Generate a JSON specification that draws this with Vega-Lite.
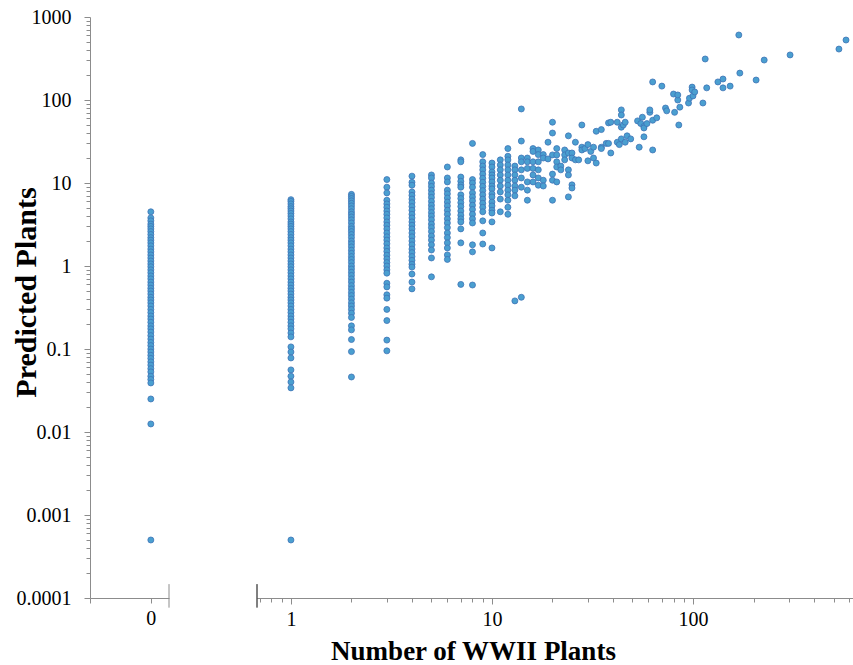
{
  "$schema": "https://vega.github.io/schema/vega-lite/v6.json",
  "background": "white",
  "padding": {"left": 11, "top": 7, "right": 0, "bottom": 0},
  "bounds": "flush",
  "spacing": 88,
  "config": {
    "view": {"stroke": null},
    "font": "Liberation Serif",
    "axis": {
      "grid": false,
      "labelFont": "Liberation Serif",
      "titleFont": "Liberation Serif",
      "labelFontSize": 20,
      "titleFontSize": 27,
      "titleFontWeight": "bold",
      "labelColor": "black",
      "titleColor": "black",
      "domainColor": "#8c8c8c",
      "tickColor": "#8c8c8c",
      "labelFlush": false,
      "labelOverlap": false
    }
  },
  "datasets": {
    "pts": [
      {"x":0,"y":4.5},{"x":0,"y":3.8},{"x":0,"y":3.5},{"x":0,"y":3.2},{"x":0,"y":3.0},{"x":0,"y":2.8},{"x":0,"y":2.6},{"x":0,"y":2.4},{"x":0,"y":2.2},{"x":0,"y":2.05},{"x":0,"y":1.9},{"x":0,"y":1.75},{"x":0,"y":1.6},{"x":0,"y":1.48},{"x":0,"y":1.36},{"x":0,"y":1.25},{"x":0,"y":1.15},{"x":0,"y":1.06},{"x":0,"y":0.98},{"x":0,"y":0.9},{"x":0,"y":0.83},{"x":0,"y":0.76},{"x":0,"y":0.7},{"x":0,"y":0.64},{"x":0,"y":0.59},{"x":0,"y":0.54},{"x":0,"y":0.5},{"x":0,"y":0.46},{"x":0,"y":0.42},{"x":0,"y":0.39},{"x":0,"y":0.36},{"x":0,"y":0.33},{"x":0,"y":0.3},{"x":0,"y":0.275},{"x":0,"y":0.25},{"x":0,"y":0.23},{"x":0,"y":0.21},{"x":0,"y":0.19},{"x":0,"y":0.175},{"x":0,"y":0.16},{"x":0,"y":0.145},{"x":0,"y":0.132},{"x":0,"y":0.12},{"x":0,"y":0.11},{"x":0,"y":0.1},{"x":0,"y":0.092},{"x":0,"y":0.084},{"x":0,"y":0.077},{"x":0,"y":0.07},{"x":0,"y":0.064},{"x":0,"y":0.058},{"x":0,"y":0.053},{"x":0,"y":0.047},{"x":0,"y":0.043},{"x":0,"y":0.039},{"x":0,"y":0.025},{"x":0,"y":0.0125},{"x":0,"y":0.0005},
      {"x":1,"y":6.3},{"x":1,"y":6.0},{"x":1,"y":5.6},{"x":1,"y":5.2},{"x":1,"y":4.9},{"x":1,"y":4.6},{"x":1,"y":4.3},{"x":1,"y":4.0},{"x":1,"y":3.7},{"x":1,"y":3.4},{"x":1,"y":3.2},{"x":1,"y":3.0},{"x":1,"y":2.8},{"x":1,"y":2.6},{"x":1,"y":2.4},{"x":1,"y":2.2},{"x":1,"y":2.05},{"x":1,"y":1.9},{"x":1,"y":1.75},{"x":1,"y":1.6},{"x":1,"y":1.48},{"x":1,"y":1.36},{"x":1,"y":1.25},{"x":1,"y":1.15},{"x":1,"y":1.06},{"x":1,"y":0.98},{"x":1,"y":0.9},{"x":1,"y":0.83},{"x":1,"y":0.76},{"x":1,"y":0.7},{"x":1,"y":0.64},{"x":1,"y":0.59},{"x":1,"y":0.54},{"x":1,"y":0.5},{"x":1,"y":0.46},{"x":1,"y":0.42},{"x":1,"y":0.39},{"x":1,"y":0.36},{"x":1,"y":0.33},{"x":1,"y":0.3},{"x":1,"y":0.275},{"x":1,"y":0.25},{"x":1,"y":0.23},{"x":1,"y":0.21},{"x":1,"y":0.19},{"x":1,"y":0.175},{"x":1,"y":0.156},{"x":1,"y":0.14},{"x":1,"y":0.106},{"x":1,"y":0.092},{"x":1,"y":0.078},{"x":1,"y":0.056},{"x":1,"y":0.047},{"x":1,"y":0.04},{"x":1,"y":0.034},{"x":1,"y":0.0005},
      {"x":2,"y":7.3},{"x":2,"y":6.9},{"x":2,"y":6.5},{"x":2,"y":6.1},{"x":2,"y":5.7},{"x":2,"y":5.3},{"x":2,"y":4.9},{"x":2,"y":4.5},{"x":2,"y":4.2},{"x":2,"y":3.9},{"x":2,"y":3.6},{"x":2,"y":3.3},{"x":2,"y":3.0},{"x":2,"y":2.8},{"x":2,"y":2.6},{"x":2,"y":2.4},{"x":2,"y":2.2},{"x":2,"y":2.0},{"x":2,"y":1.85},{"x":2,"y":1.7},{"x":2,"y":1.55},{"x":2,"y":1.42},{"x":2,"y":1.3},{"x":2,"y":1.2},{"x":2,"y":1.1},{"x":2,"y":1.0},{"x":2,"y":0.92},{"x":2,"y":0.84},{"x":2,"y":0.77},{"x":2,"y":0.7},{"x":2,"y":0.64},{"x":2,"y":0.58},{"x":2,"y":0.53},{"x":2,"y":0.48},{"x":2,"y":0.44},{"x":2,"y":0.4},{"x":2,"y":0.36},{"x":2,"y":0.33},{"x":2,"y":0.3},{"x":2,"y":0.27},{"x":2,"y":0.24},{"x":2,"y":0.19},{"x":2,"y":0.17},{"x":2,"y":0.13},{"x":2,"y":0.093},{"x":2,"y":0.046},
      {"x":3,"y":11},{"x":3,"y":8.9},{"x":3,"y":7.6},{"x":3,"y":6.2},{"x":3,"y":5.6},{"x":3,"y":5.1},{"x":3,"y":4.6},{"x":3,"y":4.2},{"x":3,"y":3.8},{"x":3,"y":3.4},{"x":3,"y":3.1},{"x":3,"y":2.8},{"x":3,"y":2.5},{"x":3,"y":2.25},{"x":3,"y":2.05},{"x":3,"y":1.85},{"x":3,"y":1.65},{"x":3,"y":1.5},{"x":3,"y":1.35},{"x":3,"y":1.22},{"x":3,"y":1.1},{"x":3,"y":1.0},{"x":3,"y":0.9},{"x":3,"y":0.82},{"x":3,"y":0.62},{"x":3,"y":0.56},{"x":3,"y":0.45},{"x":3,"y":0.41},{"x":3,"y":0.3},{"x":3,"y":0.22},{"x":3,"y":0.128},{"x":3,"y":0.095},
      {"x":4,"y":12.1},{"x":4,"y":10.2},{"x":4,"y":9.4},{"x":4,"y":7.8},{"x":4,"y":7.1},{"x":4,"y":6.4},{"x":4,"y":5.8},{"x":4,"y":5.2},{"x":4,"y":4.7},{"x":4,"y":4.2},{"x":4,"y":3.8},{"x":4,"y":3.4},{"x":4,"y":3.1},{"x":4,"y":2.8},{"x":4,"y":2.5},{"x":4,"y":2.25},{"x":4,"y":2.0},{"x":4,"y":1.8},{"x":4,"y":1.6},{"x":4,"y":1.45},{"x":4,"y":1.3},{"x":4,"y":1.17},{"x":4,"y":1.05},{"x":4,"y":0.97},{"x":4,"y":0.8},{"x":4,"y":0.64},{"x":4,"y":0.53},
      {"x":5,"y":12.5},{"x":5,"y":11.5},{"x":5,"y":10},{"x":5,"y":9.1},{"x":5,"y":8.2},{"x":5,"y":7.4},{"x":5,"y":6.7},{"x":5,"y":6.0},{"x":5,"y":5.4},{"x":5,"y":4.9},{"x":5,"y":4.4},{"x":5,"y":4.0},{"x":5,"y":3.6},{"x":5,"y":3.2},{"x":5,"y":2.9},{"x":5,"y":2.6},{"x":5,"y":2.3},{"x":5,"y":2.05},{"x":5,"y":1.8},{"x":5,"y":1.56},{"x":5,"y":1.25},{"x":5,"y":0.74},
      {"x":6,"y":15.6},{"x":6,"y":11.5},{"x":6,"y":10.3},{"x":6,"y":8.2},{"x":6,"y":7.4},{"x":6,"y":6.6},{"x":6,"y":5.9},{"x":6,"y":5.3},{"x":6,"y":4.7},{"x":6,"y":4.2},{"x":6,"y":3.7},{"x":6,"y":3.3},{"x":6,"y":2.9},{"x":6,"y":2.5},{"x":6,"y":2.2},{"x":6,"y":1.9},{"x":6,"y":1.65},{"x":6,"y":1.36},{"x":6,"y":1.2},
      {"x":7,"y":19},{"x":7,"y":18},{"x":7,"y":11.8},{"x":7,"y":10.5},{"x":7,"y":9.5},{"x":7,"y":8.9},{"x":7,"y":7.2},{"x":7,"y":6.5},{"x":7,"y":5.8},{"x":7,"y":5.2},{"x":7,"y":4.6},{"x":7,"y":4.1},{"x":7,"y":3.7},{"x":7,"y":3.4},{"x":7,"y":2.8},{"x":7,"y":1.9},{"x":7,"y":0.6},
      {"x":8,"y":30},{"x":8,"y":11},{"x":8,"y":10},{"x":8,"y":8.9},{"x":8,"y":7.6},{"x":8,"y":6.8},{"x":8,"y":6.1},{"x":8,"y":5.4},{"x":8,"y":4.8},{"x":8,"y":4.2},{"x":8,"y":3.7},{"x":8,"y":3.3},{"x":8,"y":1.8},{"x":8,"y":1.48},{"x":8,"y":0.59},
      {"x":9,"y":22},{"x":9,"y":18},{"x":9,"y":16},{"x":9,"y":14.4},{"x":9,"y":12.8},{"x":9,"y":11.4},{"x":9,"y":10.2},{"x":9,"y":9.1},{"x":9,"y":8.1},{"x":9,"y":7.2},{"x":9,"y":6.4},{"x":9,"y":5.7},{"x":9,"y":5.1},{"x":9,"y":4.5},{"x":9,"y":3.5},{"x":9,"y":2.5},{"x":9,"y":1.84},
      {"x":10,"y":17.4},{"x":10,"y":15.6},{"x":10,"y":13.6},{"x":10,"y":12.5},{"x":10,"y":11.5},{"x":10,"y":10.3},{"x":10,"y":9.2},{"x":10,"y":8.5},{"x":10,"y":7.4},{"x":10,"y":6.8},{"x":10,"y":5.9},{"x":10,"y":5.3},{"x":10,"y":4.7},{"x":10,"y":4.35},{"x":10,"y":3.4},{"x":10,"y":1.65},
      {"x":11,"y":19},{"x":11,"y":16.5},{"x":11,"y":14.4},{"x":11,"y":12.5},{"x":11,"y":10.8},{"x":11,"y":9.2},{"x":11,"y":7.8},{"x":11,"y":6.4},{"x":11,"y":4.5},
      {"x":12,"y":26},{"x":12,"y":21},{"x":12,"y":19},{"x":12,"y":16.5},{"x":12,"y":14.4},{"x":12,"y":12.5},{"x":12,"y":10.8},{"x":12,"y":9.4},{"x":12,"y":8.2},{"x":12,"y":7.2},{"x":12,"y":6.2},{"x":12,"y":5.1},{"x":12,"y":4.2},
      {"x":13,"y":16},{"x":13,"y":14.4},{"x":13,"y":12.5},{"x":13,"y":10.8},{"x":13,"y":9.2},{"x":13,"y":8.2},{"x":13,"y":7.0},{"x":13,"y":0.38},
      {"x":14,"y":78},{"x":14,"y":32},{"x":14,"y":20},{"x":14,"y":18},{"x":14,"y":14.4},{"x":14,"y":11.5},{"x":14,"y":8.9},{"x":14,"y":0.42},
      {"x":15,"y":20},{"x":15,"y":18},{"x":15,"y":15},{"x":15,"y":10.3},{"x":15,"y":8.2},{"x":15,"y":6.2},
      {"x":16,"y":26},{"x":16,"y":24},{"x":16,"y":18},{"x":16,"y":15},{"x":16,"y":12.5},{"x":16,"y":10.3},
      {"x":17,"y":25},{"x":17,"y":22},{"x":17,"y":18},{"x":17,"y":14.4},{"x":17,"y":11.5},{"x":17,"y":9.4},
      {"x":18,"y":22},{"x":18,"y":20},{"x":18,"y":10.8},{"x":18,"y":9.2},
      {"x":19,"y":31},{"x":19,"y":19.5},
      {"x":20,"y":54},{"x":20,"y":40},{"x":20,"y":21.8},{"x":20,"y":12.8},{"x":20,"y":10.8},{"x":20,"y":6.2},
      {"x":21,"y":26},{"x":21,"y":21.8},{"x":21,"y":18},{"x":21,"y":15.6},{"x":21,"y":10.3},
      {"x":22,"y":16},{"x":22,"y":14.4},
      {"x":23,"y":25},{"x":23,"y":21.8},{"x":23,"y":19},
      {"x":24,"y":37},{"x":24,"y":23},{"x":24,"y":14.4},{"x":24,"y":12.5},{"x":24,"y":6.8},
      {"x":25,"y":23},{"x":25,"y":20},{"x":25,"y":9.5},{"x":25,"y":8.7},
      {"x":26,"y":31},{"x":26,"y":19},
      {"x":27,"y":19},
      {"x":28,"y":50},{"x":28,"y":27},{"x":28,"y":25},
      {"x":29,"y":26},
      {"x":30,"y":29},{"x":30,"y":18.5},
      {"x":31,"y":24},
      {"x":32,"y":27},{"x":32,"y":20},
      {"x":33,"y":42},{"x":33,"y":17.4},
      {"x":35,"y":44},{"x":35,"y":27},{"x":35,"y":26},
      {"x":37,"y":30},
      {"x":38,"y":53},{"x":38,"y":30},
      {"x":39,"y":54},{"x":39,"y":23},
      {"x":42,"y":54},{"x":42,"y":31},
      {"x":43,"y":29},
      {"x":44,"y":76},{"x":44,"y":66},{"x":44,"y":47},{"x":44,"y":34},
      {"x":45,"y":50},
      {"x":46,"y":54},{"x":46,"y":31},
      {"x":47,"y":37},
      {"x":49,"y":34},
      {"x":53,"y":56},
      {"x":54,"y":27},
      {"x":55,"y":52},
      {"x":56,"y":62},
      {"x":57,"y":36},{"x":57,"y":48},{"x":57,"y":46},
      {"x":59,"y":52},
      {"x":61,"y":71},{"x":61,"y":76},
      {"x":63,"y":165},{"x":63,"y":57},{"x":63,"y":25},
      {"x":66,"y":61},
      {"x":70,"y":147},
      {"x":73,"y":80},
      {"x":74,"y":74},
      {"x":80,"y":118},
      {"x":81,"y":71},
      {"x":84,"y":100},{"x":84,"y":115},
      {"x":85,"y":50},
      {"x":86,"y":82},
      {"x":95,"y":92},
      {"x":96,"y":105},
      {"x":99,"y":143},{"x":99,"y":132},
      {"x":100,"y":112},
      {"x":102,"y":125},
      {"x":112,"y":92},
      {"x":115,"y":312},
      {"x":117,"y":140},
      {"x":133,"y":165},
      {"x":141,"y":179},{"x":141,"y":140},
      {"x":153,"y":147},
      {"x":169,"y":607},
      {"x":171,"y":211},
      {"x":206,"y":174},
      {"x":226,"y":303},
      {"x":304,"y":349},
      {"x":532,"y":411},
      {"x":577,"y":528}
    ]
  },
  "hconcat": [
    {
      "width": 79,
      "height": 581,
      "layer": [
        {
          "data": {"name": "pts"},
          "transform": [{"filter": "datum.x == 0"}],
          "mark": {"type": "circle", "size": 36, "color": "#4a9fd0", "stroke": "#3f74b6", "strokeWidth": 0.8, "opacity": 1},
          "encoding": {
            "x": {
              "field": "x", "type": "quantitative",
              "scale": {"domain": [-0.77, 0.23], "nice": false, "zero": false},
              "axis": {
                "title": null,
                "values": [-0.77, 0],
                "labelExpr": "datum.value == 0 ? '0' : ''",
                "tickSize": 5,
                "labelPadding": 5
              }
            },
            "y": {
              "field": "y", "type": "quantitative",
              "scale": {"type": "log", "domain": [0.0001, 1000], "nice": false},
              "axis": {
                "title": "Predicted Plants",
                "titleFontSize": 30,
                "titleAngle": -90,
                "titleX": -55,
                "titleY": 275,
                "titleBaseline": "alphabetic",
                "titleAlign": "center",
                "values": [0.0001,0.0002,0.0003,0.0004,0.0005,0.0006,0.0007,0.0008,0.0009,0.001,0.002,0.003,0.004,0.005,0.006,0.007,0.008,0.009,0.01,0.02,0.03,0.04,0.05,0.06,0.07,0.08,0.09,0.1,0.2,0.3,0.4,0.5,0.6,0.7,0.8,0.9,1,2,3,4,5,6,7,8,9,10,20,30,40,50,60,70,80,90,100,200,300,400,500,600,700,800,900,1000],
                "format": "~g",
                "labelExpr": "indexof([0.0001,0.001,0.01,0.1,1,10,100,1000], datum.value) >= 0 ? datum.label : ''",
                "tickSize": {"condition": {"test": "indexof([0.0001,0.001,0.01,0.1,1,10,100,1000], datum.value) >= 0", "value": 6}, "value": 4},
                "labelPadding": 13
              }
            }
          }
        },
        {
          "data": {"values": [{}]},
          "mark": {"type": "rule", "color": "#8c8c8c", "strokeWidth": 1},
          "encoding": {
            "x": {"datum": 0.23, "type": "quantitative"},
            "y": {"datum": 0.000147, "type": "quantitative"},
            "y2": {"datum": 0.0000765}
          }
        }
      ]
    },
    {
      "width": 596,
      "height": 581,
      "layer": [
        {
          "data": {"name": "pts"},
          "transform": [{"filter": "datum.x > 0"}],
          "mark": {"type": "circle", "size": 36, "color": "#4a9fd0", "stroke": "#3f74b6", "strokeWidth": 0.8, "opacity": 1},
          "encoding": {
            "x": {
              "field": "x", "type": "quantitative",
              "scale": {"type": "log", "domain": [0.678, 625], "nice": false},
              "axis": {
                "title": "Number of WWII Plants",
                "titleX": 216,
                "titleY": 61,
                "titleBaseline": "alphabetic",
                "titleAlign": "center",
                "values": [0.7,0.8,0.9,1,2,3,4,5,6,7,8,9,10,20,30,40,50,60,70,80,90,100,200,300,400,500,600],
                "format": "~g",
                "labelExpr": "indexof([1,10,100], datum.value) >= 0 ? datum.label : ''",
                "tickSize": {"condition": {"test": "indexof([1,10,100], datum.value) >= 0", "value": 6}, "value": 4},
                "labelPadding": 5
              }
            },
            "y": {
              "field": "y", "type": "quantitative",
              "scale": {"type": "log", "domain": [0.0001, 1000], "nice": false},
              "axis": null
            }
          }
        },
        {
          "data": {"values": [{}]},
          "mark": {"type": "rule", "color": "black", "strokeWidth": 1},
          "encoding": {
            "x": {"datum": 0.678, "type": "quantitative"},
            "y": {"datum": 0.000147, "type": "quantitative"},
            "y2": {"datum": 0.0000765}
          }
        }
      ]
    }
  ]
}
